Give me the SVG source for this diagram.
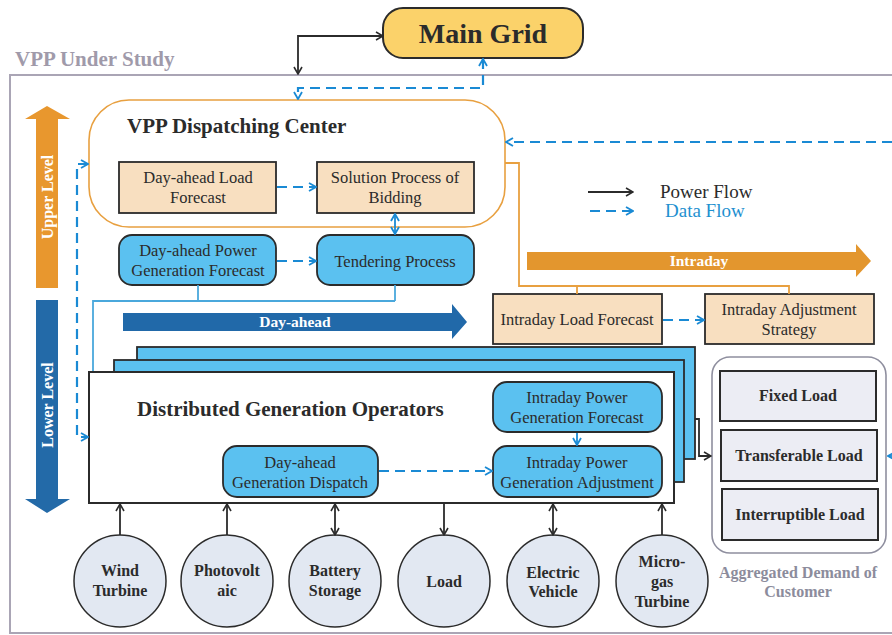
<svg xmlns="http://www.w3.org/2000/svg" width="892" height="635" viewBox="0 0 892 635">
  <style>
    text { font-family: "Liberation Serif", serif; fill: #2b2b2b; }
    .t { font-size: 16.5px; text-anchor: middle; }
    .tb { font-size: 16px; font-weight: bold; text-anchor: middle; }
    .peach { fill: #f8dfc0; stroke: #2b2b2b; stroke-width: 1.8; }
    .blue { fill: #5bc1f0; stroke: #2b2b2b; stroke-width: 1.8; }
    .load { fill: #ecedf4; stroke: #2b2b2b; stroke-width: 2; }
    .src { fill: #e2e8f2; stroke: #2b2b2b; stroke-width: 1.5; }
    .pw { fill: none; stroke: #2b2b2b; stroke-width: 1.8; }
    .data { fill: none; stroke: #1a8ad4; stroke-width: 2.2; stroke-dasharray: 10 6; }
    .datas { fill: none; stroke: #1a8ad4; stroke-width: 1.8; }
    .link { fill: none; stroke: #4aa8dc; stroke-width: 1.8; }
    .orl { fill: none; stroke: #e8a040; stroke-width: 1.8; }
    .wt { fill: #ffffff; font-weight: bold; text-anchor: middle; }
  </style>
  <defs>
    <marker id="ab" viewBox="0 0 10 10" refX="9" refY="5" markerWidth="10" markerHeight="10" markerUnits="userSpaceOnUse" orient="auto-start-reverse">
      <path d="M2,1 L9,5 L2,9" fill="none" stroke="#2b2b2b" stroke-width="1.6"/>
    </marker>
    <marker id="ad" viewBox="0 0 10 10" refX="9" refY="5" markerWidth="10" markerHeight="10" markerUnits="userSpaceOnUse" orient="auto-start-reverse">
      <path d="M2,1 L9,5 L2,9" fill="none" stroke="#1a8ad4" stroke-width="1.8"/>
    </marker>
  </defs>

  <!-- VPP boundary -->
  <g id="vpp-frame">
    <rect x="10" y="75" width="900" height="558" fill="none" stroke="#aaa5b5" stroke-width="2"/>
    <text x="15" y="66" font-size="21" font-weight="bold" style="fill:#a09aaa">VPP Under Study</text>
  </g>

  <!-- Main grid -->
  <g id="main-grid">
    <rect x="383" y="8" width="200" height="50" rx="20" fill="#fbd26a" stroke="#2b2b2b" stroke-width="2"/>
    <text x="483" y="43" font-size="28" font-weight="bold" text-anchor="middle">Main Grid</text>
  </g>

  <!-- Level arrows -->
  <g id="upper-level">
    <polygon points="47,106 70,119 58,119 58,288 36,288 36,119 25,119" fill="#e8972e"/>
    <text class="wt" font-size="16" transform="translate(53,197) rotate(-90)">Upper Level</text>
  </g>
  <g id="lower-level">
    <polygon points="36,300 58,300 58,499 70,499 47,513 25,499 36,499" fill="#236aa8"/>
    <text class="wt" font-size="16" transform="translate(53,405) rotate(-90)">Lower Level</text>
  </g>

  <!-- Time-scale arrows -->
  <g id="day-ahead-arrow">
    <polygon points="123,313 452,313 452,304 467,322 452,339 452,331 123,331" fill="#2169a9"/>
    <text class="wt" x="295" y="327" font-size="15.5">Day-ahead</text>
  </g>
  <g id="intraday-arrow">
    <polygon points="527,252 856,252 856,244 871,261 856,277 856,270 527,270" fill="#e3962e"/>
    <text class="wt" x="699" y="266" font-size="15.5">Intraday</text>
  </g>

  <!-- Dispatching center -->
  <g id="dispatch-center">
    <rect x="89" y="100" width="416" height="127" rx="40" fill="#ffffff" stroke="#e8a040" stroke-width="1.6"/>
    <text x="127" y="133" font-size="21" font-weight="bold">VPP Dispatching Center</text>
  </g>
  <g id="da-load-forecast">
    <rect class="peach" x="119" y="162" width="157" height="51"/>
    <text class="t" x="198" y="183">Day-ahead Load</text>
    <text class="t" x="198" y="203">Forecast</text>
  </g>
  <g id="bidding">
    <rect class="peach" x="317" y="162" width="157" height="51"/>
    <text class="t" x="395" y="183">Solution Process of</text>
    <text class="t" x="395" y="203">Bidding</text>
  </g>
  <g id="da-gen-forecast">
    <rect class="blue" x="119" y="235" width="157" height="50" rx="13"/>
    <text class="t" x="198" y="256">Day-ahead Power</text>
    <text class="t" x="198" y="276">Generation Forecast</text>
  </g>
  <g id="tendering">
    <rect class="blue" x="317" y="235" width="157" height="50" rx="13"/>
    <text class="t" x="395" y="267">Tendering Process</text>
  </g>

  <!-- Intraday boxes -->
  <g id="id-load-forecast">
    <rect class="peach" x="493" y="294" width="169" height="50"/>
    <text class="t" x="577" y="325">Intraday Load Forecast</text>
  </g>
  <g id="id-adjust-strategy">
    <rect class="peach" x="705" y="294" width="169" height="50"/>
    <text class="t" x="789" y="315">Intraday Adjustment</text>
    <text class="t" x="789" y="335">Strategy</text>
  </g>

  <!-- Legend -->
  <g id="legend">
    <line x1="588" y1="192" x2="633" y2="192" class="pw" marker-end="url(#ab)"/>
    <text x="660" y="198" font-size="19">Power Flow</text>
    <line x1="590" y1="211" x2="633" y2="211" class="data" marker-end="url(#ad)"/>
    <text x="665" y="217" font-size="19" style="fill:#1e90d0">Data Flow</text>
  </g>

  <!-- Distributed generation operators (stacked) -->
  <g id="dgo">
    <rect class="blue" x="137" y="347" width="558" height="112"/>
    <rect class="blue" x="114" y="360" width="570" height="122"/>
    <rect x="89" y="372" width="585" height="131" fill="#ffffff" stroke="#2b2b2b" stroke-width="2"/>
    <text x="137" y="416" font-size="21" font-weight="bold">Distributed Generation Operators</text>
  </g>
  <g id="id-gen-forecast">
    <rect class="blue" x="493" y="382" width="169" height="50" rx="14"/>
    <text class="t" x="577" y="403">Intraday Power</text>
    <text class="t" x="577" y="423">Generation Forecast</text>
  </g>
  <g id="id-gen-adjust">
    <rect class="blue" x="493" y="446" width="169" height="51" rx="14"/>
    <text class="t" x="577" y="468">Intraday Power</text>
    <text class="t" x="577" y="488">Generation Adjustment</text>
  </g>
  <g id="da-gen-dispatch">
    <rect class="blue" x="223" y="446" width="155" height="51" rx="14"/>
    <text class="t" x="300" y="468">Day-ahead</text>
    <text class="t" x="300" y="488">Generation Dispatch</text>
  </g>

  <!-- Aggregated customer demand -->
  <g id="aggregated-demand">
    <rect x="712" y="357" width="174" height="196" rx="18" fill="#ffffff" stroke="#8f8f9f" stroke-width="1.6"/>
    <text class="tb" x="798" y="578" font-size="16.5" style="fill:#8c8c9c">Aggregated Demand of</text>
    <text class="tb" x="798" y="597" font-size="16.5" style="fill:#8c8c9c">Customer</text>
  </g>
  <g id="fixed-load">
    <rect class="load" x="720" y="371" width="156" height="50"/>
    <text class="tb" x="798" y="401">Fixed Load</text>
  </g>
  <g id="transferable-load">
    <rect class="load" x="721" y="430" width="156" height="51"/>
    <text class="tb" x="799" y="461">Transferable Load</text>
  </g>
  <g id="interruptible-load">
    <rect class="load" x="722" y="489" width="156" height="51"/>
    <text class="tb" x="800" y="520">Interruptible Load</text>
  </g>

  <!-- Distributed resources -->
  <g id="wind">
    <circle class="src" cx="120" cy="581" r="46"/>
    <text class="tb" x="120" y="576">Wind</text>
    <text class="tb" x="120" y="596">Turbine</text>
  </g>
  <g id="pv">
    <circle class="src" cx="227" cy="581" r="46"/>
    <text class="tb" x="227" y="576">Photovolt</text>
    <text class="tb" x="227" y="596">aic</text>
  </g>
  <g id="battery">
    <circle class="src" cx="335" cy="581" r="46"/>
    <text class="tb" x="335" y="576">Battery</text>
    <text class="tb" x="335" y="596">Storage</text>
  </g>
  <g id="load">
    <circle class="src" cx="444" cy="581" r="46"/>
    <text class="tb" x="444" y="587">Load</text>
  </g>
  <g id="ev">
    <circle class="src" cx="553" cy="581" r="46"/>
    <text class="tb" x="553" y="578">Electric</text>
    <text class="tb" x="553" y="597">Vehicle</text>
  </g>
  <g id="mgt">
    <circle class="src" cx="662" cy="581" r="46"/>
    <text class="tb" x="662" y="567">Micro-</text>
    <text class="tb" x="662" y="587">gas</text>
    <text class="tb" x="662" y="607">Turbine</text>
  </g>

  <!-- Connectors -->
  <g id="connectors">
    <!-- power flows -->
    <path class="pw" d="M383,36 L298,36 L298,74" marker-start="url(#ab)" marker-end="url(#ab)"/>
    <path class="pw" d="M695,419 L699,419 L699,456 L711,456" marker-end="url(#ab)"/>
    <path class="pw" d="M120,535 L120,504" marker-end="url(#ab)"/>
    <path class="pw" d="M227,535 L227,504" marker-end="url(#ab)"/>
    <path class="pw" d="M335,535 L335,504" marker-start="url(#ab)" marker-end="url(#ab)"/>
    <path class="pw" d="M444,504 L444,535" marker-end="url(#ab)"/>
    <path class="pw" d="M553,535 L553,504" marker-start="url(#ab)" marker-end="url(#ab)"/>
    <path class="pw" d="M662,535 L662,504" marker-end="url(#ab)"/>

    <!-- data flows -->
    <path class="data" d="M483,59 L483,88 L298,88 L298,99" marker-start="url(#ad)" marker-end="url(#ad)"/>
    <path class="data" d="M892,142 L506,142" marker-end="url(#ad)"/>
    <path class="data" d="M88,164 L77,164 L77,437 L88,437" marker-start="url(#ad)" marker-end="url(#ad)"/>
    <path class="data" d="M277,187 L316,187" marker-end="url(#ad)"/>
    <path class="data" d="M277,261 L316,261" marker-end="url(#ad)"/>
    <path class="data" d="M663,320 L704,320" marker-end="url(#ad)"/>
    <path class="data" d="M379,471 L492,471" marker-end="url(#ad)"/>
    <path class="datas" d="M895,456 L888,456" marker-end="url(#ad)"/>
    <path class="datas" d="M395,214 L395,234" marker-start="url(#ad)" marker-end="url(#ad)"/>
    <path class="datas" d="M577,433 L577,445" marker-end="url(#ad)"/>

    <!-- forecast links to operators -->
    <path class="link" d="M198,285 L198,301 M395,285 L395,301 M395,301 L93,301 L93,371"/>

    <!-- dispatch center to intraday boxes -->
    <path class="orl" d="M505,163 L519,163 L519,286 L789,286 L789,294 M577,286 L577,294"/>
  </g>
</svg>
